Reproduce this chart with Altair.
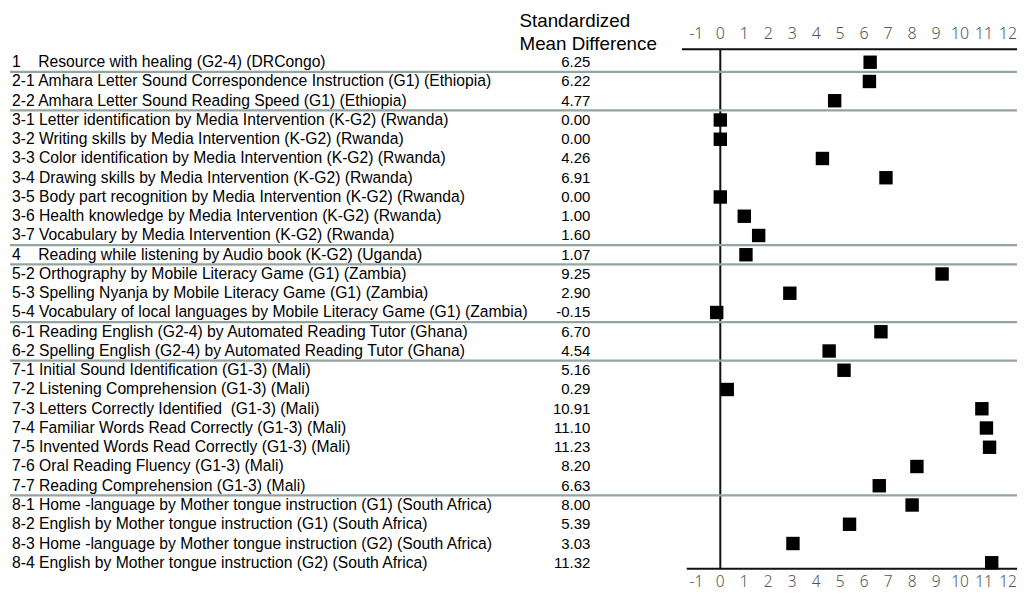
import altair as alt
import pandas as pd

labels = [
    "1\u00a0\u00a0\u00a0\u00a0Resource with healing (G2-4) (DRCongo)",
    "2-1 Amhara Letter Sound Correspondence Instruction (G1) (Ethiopia)",
    "2-2 Amhara Letter Sound Reading Speed (G1) (Ethiopia)",
    "3-1 Letter identification by Media Intervention (K-G2) (Rwanda)",
    "3-2 Writing skills by Media Intervention (K-G2) (Rwanda)",
    "3-3 Color identification by Media Intervention (K-G2) (Rwanda)",
    "3-4 Drawing skills by Media Intervention (K-G2) (Rwanda)",
    "3-5 Body part recognition by Media Intervention (K-G2) (Rwanda)",
    "3-6 Health knowledge by Media Intervention (K-G2) (Rwanda)",
    "3-7 Vocabulary by Media Intervention (K-G2) (Rwanda)",
    "4\u00a0\u00a0\u00a0\u00a0Reading while listening by Audio book (K-G2) (Uganda)",
    "5-2 Orthography by Mobile Literacy Game (G1) (Zambia)",
    "5-3 Spelling Nyanja by Mobile Literacy Game (G1) (Zambia)",
    "5-4 Vocabulary of local languages by Mobile Literacy Game (G1) (Zambia)",
    "6-1 Reading English (G2-4) by Automated Reading Tutor (Ghana)",
    "6-2 Spelling English (G2-4) by Automated Reading Tutor (Ghana)",
    "7-1 Initial Sound Identification (G1-3) (Mali)",
    "7-2 Listening Comprehension (G1-3) (Mali)",
    "7-3 Letters Correctly Identified\u00a0 (G1-3) (Mali)",
    "7-4 Familiar Words Read Correctly (G1-3) (Mali)",
    "7-5 Invented Words Read Correctly (G1-3) (Mali)",
    "7-6 Oral Reading Fluency (G1-3) (Mali)",
    "7-7 Reading Comprehension (G1-3) (Mali)",
    "8-1 Home -language by Mother tongue instruction (G1) (South Africa)",
    "8-2 English by Mother tongue instruction (G1) (South Africa)",
    "8-3 Home -language by Mother tongue instruction (G2) (South Africa)",
    "8-4 English by Mother tongue instruction (G2) (South Africa)",
]

smd = [6.25, 6.22, 4.77, 0.00, 0.00, 4.26, 6.91, 0.00, 1.00, 1.60, 1.07,
       9.25, 2.90, -0.15, 6.70, 4.54, 5.16, 0.29, 10.91, 11.10, 11.23,
       8.20, 6.63, 8.00, 5.39, 3.03, 11.32]

tick_values = list(range(-1, 13))
header = ["Standardized", "Mean Difference"]

rows = list(range(len(labels)))
df = pd.DataFrame({
    "r": rows,
    "label": labels,
    "value": smd,
    "value_txt": [f"{v:.2f}" for v in smd],
})

groups = [l.split("\u00a0")[0].split(" ")[0].split("-")[0] for l in labels]
bounds = [i + 0.5 for i in range(len(labels) - 1) if groups[i] != groups[i + 1]]
sep_df = pd.DataFrame({"b": bounds})
tick_df = pd.DataFrame({"t": tick_values, "t_txt": [str(t) for t in tick_values]})

W, H = 1011, 574
PX_PER_UNIT, ZERO_PX = 24.0, 713
ROW0, ROW_STEP = 54.0, 19.27
x_scale = alt.Scale(domain=[-ZERO_PX / PX_PER_UNIT, (W - ZERO_PX) / PX_PER_UNIT],
                    nice=False, zero=False)
y_scale = alt.Scale(domain=[-ROW0 / ROW_STEP, (H - ROW0) / ROW_STEP], nice=False,
                    zero=False, reverse=True)

FONT = "Liberation Sans"

base = alt.Chart(df)

label_text = base.mark_text(align="left", baseline="middle", font=FONT,
                            fontSize=15.7, color="#000").encode(
    x=alt.value(4),
    y=alt.Y("r:Q", scale=y_scale, axis=None),
    text="label:N",
)

value_text = base.mark_text(align="right", baseline="middle", font=FONT,
                            fontSize=15, color="#000").encode(
    x=alt.value(583),
    y=alt.Y("r:Q", scale=y_scale, axis=None),
    text="value_txt:N",
)

header_df = pd.DataFrame({"h": header, "k": [0, 1]})
header_text = alt.Chart(header_df).mark_text(
    align="left", baseline="middle", font=FONT, fontSize=18.8, color="#000"
).encode(
    x=alt.value(512),
    y=alt.Y("k:Q", scale=alt.Scale(domain=[0, 1], range=[13, 36]), axis=None),
    text="h:N",
)

zero_line = alt.Chart(pd.DataFrame({"z": [0]})).mark_rule(
    color="#111", strokeWidth=2
).encode(
    x=alt.X("z:Q", scale=x_scale, axis=None),
    y=alt.value(41),
    y2=alt.value(561),
)

axis_df = pd.DataFrame({"x1": [-1.6, -1.4], "x2": [12.38, 12.38], "pos": [41, 561]})
axis_lines = alt.Chart(axis_df).mark_rule(color="#111", strokeWidth=2.2).encode(
    x=alt.X("x1:Q", scale=x_scale, axis=None),
    x2="x2:Q",
    y=alt.Y("pos:Q", scale=alt.Scale(domain=[0, H], range=[0, H]), axis=None),
)

separators = alt.Chart(sep_df).mark_rule(color="#93a4a1", strokeWidth=2.2).encode(
    y=alt.Y("b:Q", scale=y_scale, axis=None),
    x=alt.value(2),
    x2=alt.value(1010),
)

markers = base.mark_square(size=180, color="#000", opacity=1, filled=True).encode(
    x=alt.X("value:Q", scale=x_scale, axis=None),
    y=alt.Y("r:Q", scale=y_scale, axis=None),
)

tick_top = alt.Chart(tick_df).mark_text(
    align="center", baseline="middle", font="Noto Sans", fontSize=16,
    fontWeight=300, color="#555"
).encode(
    x=alt.X("t:Q", scale=x_scale, axis=None),
    y=alt.value(26),
    text="t_txt:N",
)
tick_bottom = alt.Chart(tick_df).mark_text(
    align="center", baseline="middle", font="Noto Sans", fontSize=15.5,
    fontWeight=300, color="#555"
).encode(
    x=alt.X("t:Q", scale=x_scale, axis=None),
    y=alt.value(574),
    text="t_txt:N",
)

chart = alt.layer(
    zero_line, axis_lines, separators, markers, label_text, value_text,
    header_text, tick_top, tick_bottom,
).resolve_scale(y="independent").properties(
    width=W, height=H, padding=0
).configure_view(stroke=None)

chart.save("out.html", embed_options={"renderer": "svg", "actions": False})
